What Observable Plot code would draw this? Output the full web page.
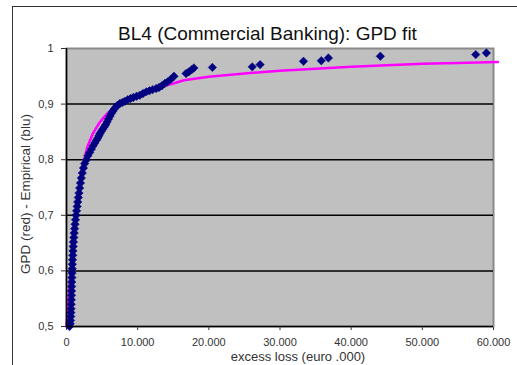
<!DOCTYPE html>
<html>
<head>
<meta charset="utf-8">
<script src="https://cdn.jsdelivr.net/npm/d3@7"></script>
<script src="https://cdn.jsdelivr.net/npm/@observablehq/plot@0.6"></script>
<style>
  html, body { margin: 0; padding: 0; background: #fff; }
  #wrap { position: relative; width: 517px; height: 365px; overflow: hidden; font-family: "Liberation Sans", Arial, sans-serif; }
  #box { position: absolute; left: 12px; top: 6px; right: -2px; bottom: -2px; border-left: 1px solid #333; border-top: 1px solid #333; }
  #title { position: absolute; left: 0; width: 535px; top: 24px; text-align: center; font-size: 19px; line-height: 19px; color: #111; white-space: nowrap; }
  #xlab { position: absolute; left: 0; width: 596px; top: 350px; text-align: center; font-size: 13px; line-height: 13px; color: #333; white-space: nowrap; }
  #ylab { position: absolute; left: 26px; top: 194px; font-size: 13.5px; line-height: 13.5px; color: #333; white-space: nowrap; transform: translate(-50%, -50%) rotate(-90deg); }
  #chart { position: absolute; left: 0; top: 0; }
</style>
</head>
<body>
<div id="wrap">
  <div id="box"></div>
  <div id="chart"></div>
  <div id="title"></div>
  <div id="xlab"></div>
  <div id="ylab"></div>
</div>
<script>
const titleText = "BL4 (Commercial Banking): GPD fit";
const xLabel = "excess loss (euro .000)";
const yLabel = "GPD (red) - Empirical (blu)";

const xTicks = [0, 10000, 20000, 30000, 40000, 50000, 60000];
const yTicks = [0.5, 0.6, 0.7, 0.8, 0.9, 1];
const yGrid = [0.6, 0.7, 0.8, 0.9];

// Empirical points (excess loss, empirical cdf)
const empX = [420, 520, 560, 600, 620, 640, 660, 680, 700, 710, 720, 740, 760, 780, 800, 820, 850, 880, 910, 940,
  980, 1030, 1080, 1140, 1200, 1270, 1340, 1420, 1500, 1580, 1660, 1750, 1850, 1960, 2080, 2220, 2380, 2550, 2800, 3000,
  3250, 3500, 3750, 3980, 4200, 4400, 4550, 4700, 4900, 5100, 5300, 5500, 5700, 5900, 6100, 6300, 6500, 6700, 6950, 7200,
  7500, 7850, 8200, 8600, 9000, 9400, 9850, 10300, 10750, 11200, 11650, 12100, 12600, 13000, 13400, 13800, 14200, 14600, 15100,
  16800, 17200, 17600, 17900, 20500, 26100, 27200, 33300, 35800, 36800, 44100, 57500, 59000];
const empY = [0.500, 0.505, 0.511, 0.518, 0.525, 0.532, 0.540, 0.548, 0.556, 0.564, 0.572, 0.580, 0.588, 0.596, 0.604, 0.612, 0.620, 0.628, 0.636, 0.644,
  0.652, 0.660, 0.668, 0.676, 0.684, 0.692, 0.700, 0.708, 0.716, 0.724, 0.732, 0.740, 0.749, 0.758, 0.767, 0.776, 0.785, 0.793, 0.800, 0.807,
  0.813, 0.819, 0.825, 0.830, 0.835, 0.839, 0.843, 0.847, 0.851, 0.855, 0.859, 0.863, 0.868, 0.873, 0.878, 0.883, 0.887, 0.891, 0.895, 0.898,
  0.901, 0.903, 0.905, 0.908, 0.910, 0.912, 0.914, 0.916, 0.919, 0.922, 0.924, 0.926, 0.928, 0.930, 0.933, 0.937, 0.940, 0.944, 0.950,
  0.955, 0.958, 0.962, 0.965, 0.966, 0.967, 0.971, 0.977, 0.978, 0.983, 0.986, 0.989, 0.992];

// GPD fitted curve
const gpdX = [0, 400, 800, 1200, 1700, 2200, 2900, 3700, 4600, 5300, 5800, 6900, 7600, 9000, 10500, 12000, 13500, 15000, 16500,
  20000, 25000, 30000, 35000, 40000, 45000, 50000, 55000, 60600];
const gpdY = [0.500, 0.570, 0.630, 0.690, 0.740, 0.785, 0.822, 0.847, 0.866, 0.877, 0.884, 0.896, 0.903, 0.912, 0.919, 0.926, 0.932, 0.937, 0.943,
  0.949, 0.955, 0.960, 0.9635, 0.967, 0.970, 0.9725, 0.974, 0.9755];

const emp = empX.map((x, i) => ({x, y: empY[i]}));
const gpd = gpdX.map((x, i) => ({x, y: gpdY[i]}));

const loc = d3.formatLocale({decimal: ",", thousands: ".", grouping: [3], currency: ["", ""]});
const fx = loc.format(",");
const fy = loc.format("");

const chart = Plot.plot({
  width: 517,
  height: 365,
  marginLeft: 66,
  marginRight: 24,
  marginTop: 48,
  marginBottom: 39,
  style: {background: "transparent", fontFamily: "'Liberation Sans', Arial, sans-serif", fontSize: "11px", color: "#333"},
  x: {domain: [0, 60000], ticks: xTicks, tickFormat: fx, tickSize: 4, tickPadding: 8, label: null},
  y: {domain: [0.5, 1], ticks: yTicks, tickFormat: fy, tickSize: 5, tickPadding: 8, label: null},
  marks: [
    Plot.frame({fill: "#c0c0c0", stroke: "#8a8a8a", strokeWidth: 2}),
    Plot.ruleY(yGrid, {stroke: "#000", strokeWidth: 1.5}),
    Plot.line(gpd, {x: "x", y: "y", stroke: "#ff00ff", strokeWidth: 2.5}),
    Plot.dot(emp, {x: "x", y: "y", symbol: "diamond2", r: 3.8, fill: "#000080", stroke: "#000080", strokeWidth: 0.5}),
    Plot.ruleX([0], {stroke: "#000", strokeWidth: 1.5}),
    Plot.ruleY([0.5], {stroke: "#000", strokeWidth: 1.5})
  ]
});
document.getElementById("chart").appendChild(chart);
document.getElementById("title").textContent = titleText;
document.getElementById("xlab").textContent = xLabel;
document.getElementById("ylab").textContent = yLabel;
</script>
</body>
</html>
